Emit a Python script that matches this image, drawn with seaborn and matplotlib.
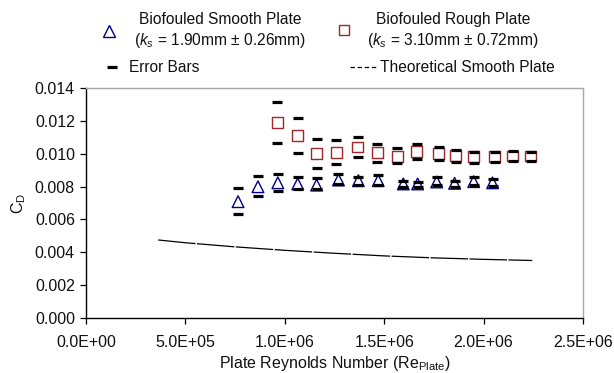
import matplotlib
matplotlib.use("Agg")
import matplotlib.pyplot as plt
import seaborn as sns
import pandas as pd
from matplotlib.lines import Line2D
from matplotlib.ticker import FuncFormatter, MultipleLocator

# ---- data ----
re_smooth = [0.765e6, 0.865e6, 0.965e6, 1.065e6, 1.16e6, 1.27e6, 1.37e6,
             1.47e6, 1.596e6, 1.668e6, 1.764e6, 1.854e6, 1.95e6, 2.045e6]
cd_smooth = [0.00708, 0.00799, 0.00823, 0.00816, 0.00809, 0.00840, 0.00836,
             0.00836, 0.00816, 0.00816, 0.00828, 0.00820, 0.00830, 0.00823]
smooth_hi = [0.00789, 0.00864, 0.00876, 0.00856, 0.00850, 0.00875, 0.00860,
             0.00870, 0.00836, 0.00830, 0.00856, 0.00836, 0.00860, 0.00844]
smooth_lo = [0.00633, 0.00743, 0.00775, 0.00783, 0.00783, 0.00816, 0.00809,
             0.00809, 0.00799, 0.00799, 0.00809, 0.00799, 0.00809, 0.00803]

re_rough = [0.961e6, 1.065e6, 1.16e6, 1.26e6, 1.367e6, 1.464e6, 1.566e6,
            1.663e6, 1.774e6, 1.859e6, 1.95e6, 2.055e6, 2.146e6, 2.236e6]
cd_rough = [0.01189, 0.01112, 0.01002, 0.01009, 0.01041, 0.01006, 0.00982,
            0.01012, 0.01002, 0.00988, 0.00982, 0.00982, 0.00986, 0.00986]
rough_hi = [0.01313, 0.01215, 0.01088, 0.01083, 0.01103, 0.01059, 0.01033,
            0.01057, 0.01043, 0.01023, 0.01012, 0.01009, 0.01016, 0.01012]
rough_lo = [0.01063, 0.01006, 0.00911, 0.00937, 0.00978, 0.00951, 0.00945,
            0.00968, 0.00962, 0.00951, 0.00945, 0.00949, 0.00957, 0.00957]

re_theory = [0.363e6, 0.5e6, 0.75e6, 1.0e6, 1.25e6, 1.5e6, 1.75e6, 2.0e6, 2.245e6]
cd_theory = [0.00475, 0.00458, 0.00433, 0.00412, 0.00394, 0.00378, 0.00366,
             0.00357, 0.00350]

label_smooth = "Biofouled Smooth Plate\n($k_s$ = 1.90mm ± 0.26mm)"
label_rough = "Biofouled Rough Plate\n($k_s$ = 3.10mm ± 0.72mm)"
label_err = "Error Bars"
label_theory = "Theoretical Smooth Plate"

BLUE = "#000080"
RED = "#A0282A"

# ---- style ----
sns.set_style("white")
plt.rcParams["font.family"] = ["Liberation Sans", "DejaVu Sans"]
plt.rcParams["mathtext.fontset"] = "custom"
plt.rcParams["mathtext.rm"] = "Liberation Sans"
plt.rcParams["mathtext.it"] = "Liberation Sans:italic"
plt.rcParams["mathtext.bf"] = "Liberation Sans:bold"

W, H = 614, 373
fig = plt.figure(figsize=(W / 100, H / 100), dpi=100)
ax = fig.add_axes([86 / W, 1 - 318 / H, (583 - 86) / W, (318 - 88) / H])

df_s = pd.DataFrame({"Re": re_smooth, "CD": cd_smooth})
df_r = pd.DataFrame({"Re": re_rough, "CD": cd_rough})
df_t = pd.DataFrame({"Re": re_theory, "CD": cd_theory})

sns.lineplot(data=df_t, x="Re", y="CD", ax=ax, color="black", lw=0.9,
             dashes=False, zorder=2)
ax.lines[-1].set_dashes([30, 1.2])

sns.scatterplot(data=df_s, x="Re", y="CD", ax=ax, marker="^", s=70,
                facecolor="none", edgecolor=BLUE, linewidth=1.0, zorder=3)
sns.scatterplot(data=df_r, x="Re", y="CD", ax=ax, marker="s", s=62,
                facecolor="none", edgecolor=RED, linewidth=1.0, zorder=3)

for xs, ys in [(re_smooth, smooth_hi), (re_smooth, smooth_lo),
               (re_rough, rough_hi), (re_rough, rough_lo)]:
    ax.plot(xs, ys, ls="none", marker="_", ms=7.5, mew=2.3, color="black",
            zorder=4)

ax.set_xlim(0, 2.5e6)
ax.set_ylim(0, 0.014)
ax.xaxis.set_major_locator(MultipleLocator(5e5))
ax.yaxis.set_major_locator(MultipleLocator(0.002))
ax.xaxis.set_major_formatter(FuncFormatter(lambda v, p: f"{v:.1E}"))
ax.yaxis.set_major_formatter(FuncFormatter(lambda v, p: f"{v:.3f}"))
ax.tick_params(axis="both", which="major", direction="out", length=4,
               width=0.9, color="black", labelsize=11.5, labelcolor="#111111",
               left=True, bottom=True)
ax.tick_params(axis="x", pad=8)
ax.tick_params(axis="y", pad=4)

for side in ["left", "bottom"]:
    ax.spines[side].set_color("black")
    ax.spines[side].set_linewidth(1.0)
for side in ["top", "right"]:
    ax.spines[side].set_color("#A8A8A8")
    ax.spines[side].set_linewidth(1.0)
ax.grid(False)

ax.set_xlabel("Plate Reynolds Number (Re$_{\\mathrm{Plate}}$)", fontsize=11.5,
              labelpad=3, color="#111111")
ax.set_ylabel("C$_{\\mathrm{D}}$", fontsize=11.5, labelpad=5, color="#111111")


# ---- legend (manual, figure pixel coordinates) ----
def fx(px):
    return px / W


def fy(py):
    return 1 - py / H


fig.add_artist(Line2D([fx(109)], [fy(31)], marker="^", ms=8.5, mfc="none",
                      mec=BLUE, mew=1.0, ls="none"))
fig.text(fx(220), fy(31), label_smooth, ha="center", va="center",
         multialignment="center", fontsize=11.2, linespacing=1.25,
         color="#111111")
fig.add_artist(Line2D([fx(344)], [fy(30)], marker="s", ms=7.8, mfc="none",
                      mec=RED, mew=1.0, ls="none"))
fig.text(fx(453), fy(31), label_rough, ha="center", va="center",
         multialignment="center", fontsize=11.2, linespacing=1.25,
         color="#111111")
fig.add_artist(Line2D([fx(112)], [fy(67)], marker="_", ms=7.5, mew=2.3,
                      color="black", ls="none"))
fig.text(fx(129), fy(67), label_err, ha="left", va="center", fontsize=11.2,
         color="#111111")
fig.add_artist(Line2D([fx(350), fx(377)], [fy(67), fy(67)], color="black",
                      lw=0.9, dashes=[3.5, 2.2]))
fig.text(fx(380), fy(67), label_theory, ha="left", va="center", fontsize=11.2,
         color="#111111")

fig.savefig("out.png", dpi=100)
